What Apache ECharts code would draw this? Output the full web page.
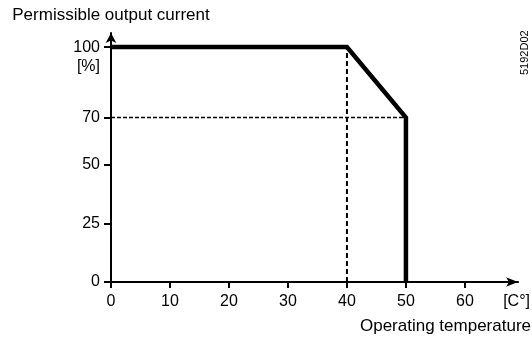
<!DOCTYPE html>
<html>
<head>
<meta charset="utf-8">
<script src="https://cdn.jsdelivr.net/npm/echarts@6/dist/echarts.min.js"></script>
<style>
  html, body { margin: 0; padding: 0; background: #fff; }
  #chart { width: 532px; height: 338px; }
</style>
</head>
<body>
<div id="chart"></div>
<script>
// Derating curve: permissible output current vs. operating temperature
const temperatures = [0, 40, 50, 50];       // °C
const currentPct   = [100, 100, 70, 0];     // % of rated current
const xTickValues  = [0, 10, 20, 30, 40, 50, 60];
const yTickValues  = [0, 25, 50, 70, 100];

// Reference guide lines derived from the curve's break points
const derateStart = temperatures[1];   // 40 °C
const cutoffTemp  = temperatures[2];   // 50 °C
const reducedPct  = currentPct[2];     // 70 %

const FONT = '"Liberation Sans", Arial, sans-serif';
const INK = '#000';

const chart = echarts.init(document.getElementById('chart'), null, { renderer: 'canvas' });

chart.setOption({
  animation: false,
  backgroundColor: '#fff',
  grid: {
    left: 111, right: 14, top: 33, bottom: 56,
    outerBoundsMode: 'none'
  },
  xAxis: {
    type: 'value',
    min: 0, max: 69,
    name: 'Operating temperature',
    nameLocation: 'end',
    nameGap: 13,
    nameTextStyle: {
      fontFamily: FONT, fontSize: 17, color: INK,
      align: 'right', verticalAlign: 'top',
      padding: [36, 0, 0, 0]
    },
    axisLine: {
      onZero: false,
      symbol: ['none', 'arrow'],
      symbolSize: [7, 12],
      lineStyle: { color: INK, width: 2 }
    },
    axisTick: {
      customValues: xTickValues,
      length: 6, inside: false,
      lineStyle: { color: INK, width: 2 }
    },
    axisLabel: {
      customValues: xTickValues,
      margin: 12,
      fontFamily: FONT, fontSize: 16, color: INK
    },
    splitLine: { show: false }
  },
  yAxis: {
    type: 'value',
    min: 0, max: 106,
    name: 'Permissible output current',
    nameLocation: 'end',
    nameGap: 18,
    nameTextStyle: {
      fontFamily: FONT, fontSize: 17, color: INK,
      align: 'center', verticalAlign: 'middle'
    },
    axisLine: {
      onZero: false,
      symbol: ['none', 'arrow'],
      symbolSize: [8, 10],
      lineStyle: { color: INK, width: 2 }
    },
    axisTick: {
      customValues: yTickValues,
      length: 7,
      lineStyle: { color: INK, width: 2 }
    },
    axisLabel: {
      customValues: yTickValues,
      margin: 11,
      fontFamily: FONT, fontSize: 16, color: INK
    },
    splitLine: { show: false }
  },
  graphic: [
    {
      type: 'text', right: 432, top: 59,
      style: { text: '[%]', font: '16px ' + FONT, fill: INK }
    },
    {
      type: 'text', right: 2, top: 294,
      style: { text: '[C°]', font: '16px ' + FONT, fill: INK }
    },
    {
      type: 'text', x: 519, y: 75, rotation: Math.PI / 2,
      style: { text: '5192D02', font: '11px ' + FONT, fill: INK, textVerticalAlign: 'top' }
    }
  ],
  series: [
    {
      name: 'reduced level',
      type: 'line',
      data: [[0, reducedPct], [cutoffTemp, reducedPct]],
      symbol: 'none',
      silent: true,
      lineStyle: { color: INK, width: 1.5, type: [4, 2] },
      z: 1
    },
    {
      name: 'derating start',
      type: 'line',
      data: [[derateStart, 0], [derateStart, currentPct[1]]],
      symbol: 'none',
      silent: true,
      lineStyle: { color: INK, width: 2, type: [5, 3] },
      z: 1
    },
    {
      name: 'output current',
      type: 'line',
      data: temperatures.map((t, i) => [t, currentPct[i]]),
      symbol: 'none',
      lineStyle: { color: INK, width: 4.5, join: 'miter', cap: 'butt' },
      z: 3
    }
  ]
});
</script>
</body>
</html>
